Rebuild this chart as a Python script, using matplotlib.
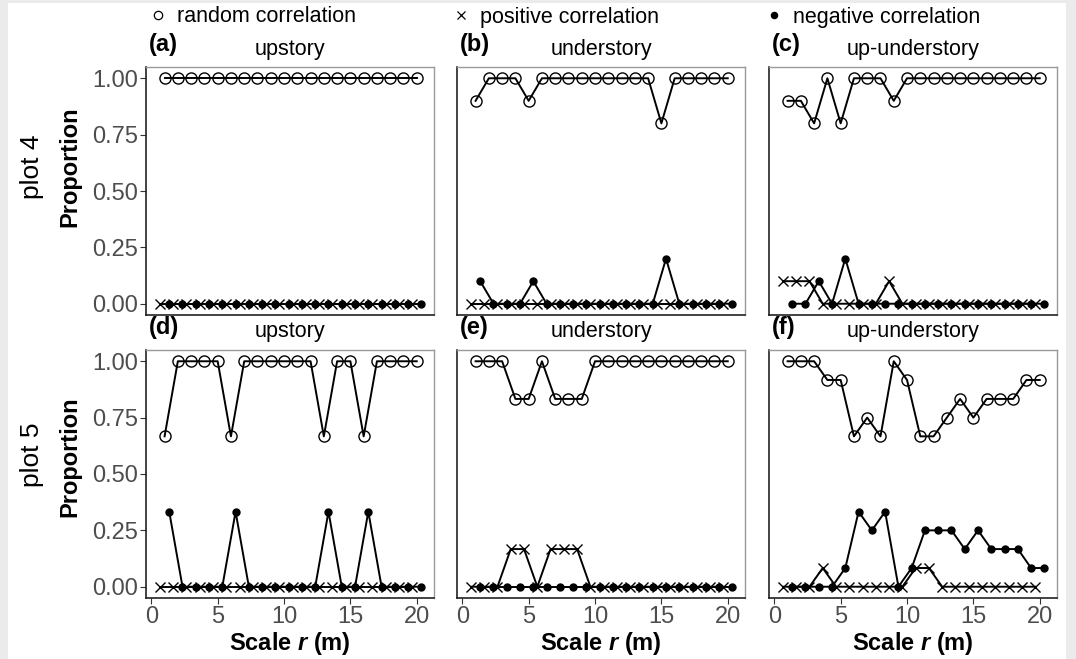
import matplotlib
matplotlib.use("Agg")
import matplotlib.pyplot as plt
from matplotlib.lines import Line2D
from matplotlib.patches import Rectangle
import numpy as np

plt.rcParams['font.family'] = ['Liberation Sans', 'DejaVu Sans']
plt.rcParams['mathtext.fontset'] = 'custom'
plt.rcParams['mathtext.it'] = 'Liberation Sans:italic:bold'

# ---------------- Data ----------------
scale_r = np.arange(1, 21)

# plot 4
a_random = [1.0] * 20
a_positive = [0.0] * 20
a_negative = [0.0] * 20

b_random = [0.9, 1, 1, 1, 0.9, 1, 1, 1, 1, 1, 1, 1, 1, 1, 0.8, 1, 1, 1, 1, 1]
b_positive = [0.0] * 20
b_negative = [0.1, 0, 0, 0, 0.1, 0, 0, 0, 0, 0, 0, 0, 0, 0, 0.2, 0, 0, 0, 0, 0]

c_random = [0.9, 0.9, 0.8, 1, 0.8, 1, 1, 1, 0.9, 1, 1, 1, 1, 1, 1, 1, 1, 1, 1, 1]
c_positive = [0.1, 0.1, 0.1, 0, 0, 0, 0, 0, 0.1, 0, 0, 0, 0, 0, 0, 0, 0, 0, 0, 0]
c_negative = [0, 0, 0.1, 0, 0.2, 0, 0, 0, 0, 0, 0, 0, 0, 0, 0, 0, 0, 0, 0, 0]

# plot 5
d_random = [0.667, 1, 1, 1, 1, 0.667, 1, 1, 1, 1, 1, 1, 0.667, 1, 1, 0.667, 1, 1, 1, 1]
d_positive = [0.0] * 20
d_negative = [0.333, 0, 0, 0, 0, 0.333, 0, 0, 0, 0, 0, 0, 0.333, 0, 0, 0.333, 0, 0, 0, 0]

e_random = [1, 1, 1, 0.833, 0.833, 1, 0.833, 0.833, 0.833, 1, 1, 1, 1, 1, 1, 1, 1, 1, 1, 1]
e_positive = [0, 0, 0, 0.167, 0.167, 0, 0.167, 0.167, 0.167, 0, 0, 0, 0, 0, 0, 0, 0, 0, 0, 0]
e_negative = [0.0] * 20

f_random = [1, 1, 1, 0.917, 0.917, 0.667, 0.75, 0.667, 1, 0.917,
            0.667, 0.667, 0.75, 0.833, 0.75, 0.833, 0.833, 0.833, 0.917, 0.917]
f_positive = [0, 0, 0, 0.083, 0, 0, 0, 0, 0, 0,
              0.083, 0.083, 0, 0, 0, 0, 0, 0, 0, 0]
f_negative = [0, 0, 0, 0, 0.083, 0.333, 0.25, 0.333, 0, 0.083,
              0.25, 0.25, 0.25, 0.167, 0.25, 0.167, 0.167, 0.167, 0.083, 0.083]

panels = [
    ("(a)", "upstory", a_random, a_positive, a_negative),
    ("(b)", "understory", b_random, b_positive, b_negative),
    ("(c)", "up-understory", c_random, c_positive, c_negative),
    ("(d)", "upstory", d_random, d_positive, d_negative),
    ("(e)", "understory", e_random, e_positive, e_negative),
    ("(f)", "up-understory", f_random, f_positive, f_negative),
]
row_labels = ["plot 4", "plot 5"]

# ---------------- Figure ----------------
W, H = 1076, 659
fig = plt.figure(figsize=(W / 100, H / 100), dpi=100)

# grey frame
for (x0, y0, w, h) in [(0, 0, 8, H), (1066, 0, 10, H), (0, H - 3, W, 3)]:
    fig.add_artist(Rectangle((x0 / W, y0 / H), w / W, h / H, transform=fig.transFigure,
                             facecolor='#ebebeb', edgecolor='none', zorder=-10))

col_left = [146, 457, 769]
row_top = [67, 350]
ax_w, ax_h = 288, 248
dodge = 0.35
tick_grey = '#4d4d4d'

for i, (tag, title, rnd, pos, neg) in enumerate(panels):
    r, c = divmod(i, 3)
    left = col_left[c] / W
    bottom = 1 - (row_top[r] + ax_h) / H
    ax = fig.add_axes([left, bottom, ax_w / W, ax_h / H])

    ax.plot(scale_r - dodge, pos, color='black', lw=1.4, marker='x', ms=7.5,
            mew=1.0, zorder=3)
    ax.plot(scale_r, rnd, color='black', lw=1.4, marker='o', ms=8,
            mfc='none', mec='black', mew=1.0, zorder=3)
    ax.plot(scale_r + dodge, neg, color='black', lw=1.4, marker='o', ms=5,
            zorder=4)

    ax.set_xlim(-0.4, 21.3)
    ax.set_ylim(-0.05, 1.05)
    ax.set_xticks([0, 5, 10, 15, 20])
    ax.set_yticks([0, 0.25, 0.5, 0.75, 1.0])
    ax.tick_params(colors='#333333', labelcolor=tick_grey, labelsize=17,
                   length=4, width=0.8, pad=2)

    for side in ['left', 'bottom']:
        ax.spines[side].set_color('#222222')
        ax.spines[side].set_linewidth(1.2)
    for side in ['top', 'right']:
        ax.spines[side].set_color('#999999')
        ax.spines[side].set_linewidth(1.0)

    if c == 0:
        ax.set_yticklabels(["0.00", "0.25", "0.50", "0.75", "1.00"])
        ax.set_ylabel("Proportion", fontsize=17, fontweight='bold')
        ax.yaxis.set_label_coords(-0.225, 0.6 if r == 0 else 0.57)
    else:
        ax.tick_params(axis='y', left=False, labelleft=False)
    if r == 1:
        ax.set_xlabel("Scale $r$ (m)", fontsize=17, fontweight='bold')
        ax.xaxis.set_label_coords(0.5, -0.128)
    else:
        ax.tick_params(axis='x', bottom=False, labelbottom=False)

    ax.set_title(title, fontsize=15.5, pad=9)
    ax.text(0.01, 1.045, tag, transform=ax.transAxes, fontsize=17,
            fontweight='bold', ha='left', va='bottom')

# row labels
for r, lab in enumerate(row_labels):
    yc = [167, 455][r]
    fig.text(32 / W, 1 - yc / H, lab, rotation=90, fontsize=19,
             ha='center', va='center', color='black')

# legend items across the top
legend_items = [
    (160, 'o', 'none', 6, "random correlation"),
    (463, 'x', 'black', 6, "positive correlation"),
    (776, 'o', 'black', 4.5, "negative correlation"),
]
for x0, mk, fc, ms, label in legend_items:
    h = Line2D([], [], linestyle='none', marker=mk, color='black', mfc=fc,
               mec='black', ms=ms, mew=0.9)
    fig.legend(handles=[h], labels=[label], loc='center left',
               bbox_to_anchor=(x0 / W - 0.012, 1 - 17 / H), frameon=False,
               fontsize=15.5, handlelength=1.0, handletextpad=0.4,
               borderpad=0, borderaxespad=0)

fig.savefig("out.png", dpi=100, facecolor='white')
